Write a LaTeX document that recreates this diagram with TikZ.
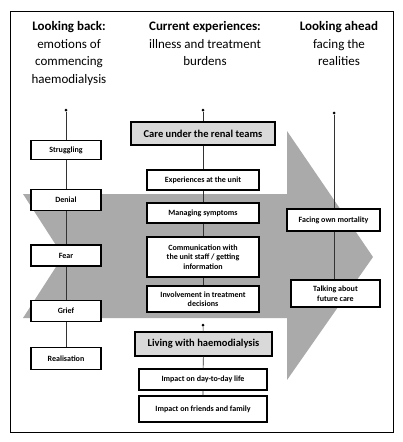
\documentclass[tikz,border=0pt]{standalone}
\usepackage{fontspec}
\setmainfont{Carlito}
\usetikzlibrary{positioning,calc}
\definecolor{ArrowGray}{RGB}{170,170,170}
\definecolor{TeamGray}{RGB}{217,217,217}
\tikzset{
    stagebox/.style={draw=black, line width=1.2pt, fill=white, inner sep=1pt, align=center, font=\bfseries\fontsize{8}{9.5}\selectfont},
    teambox/.style={stagebox, fill=TeamGray, font=\bfseries\fontsize{10.5}{12}\selectfont},
    heading/.style={align=center, font=\fontsize{13}{17.5}\selectfont, anchor=north},
    dotnode/.style={circle, fill=black, inner sep=0pt, minimum size=3pt},
    link/.style={draw=black!80, line width=0.6pt}
}

\begin{document}
\begin{tikzpicture}[x=1pt, y=-1pt]
    \useasboundingbox (0,0) rectangle (402,442);
    % --- FRAME ---
    \draw[line width=0.8pt] (10,11) rectangle (393,432);

    % --- GRAY ARROW ---
    \fill[ArrowGray] (23,194) -- (287,194) -- (287,131) -- (373,257)
        -- (287,380) -- (287,318) -- (23,318) -- (63,256) -- cycle;

    % --- HEADINGS ---
    \node[heading] (hback) at (69,18) {\textbf{Looking back:}\\emotions of\\commencing\\haemodialysis};
    \node[heading] (hnow) at (205,18) {\textbf{Current experiences:}\\illness and treatment\\burdens};
    \node[heading] (hahead) at (339,18) {\textbf{Looking ahead}\\facing the\\realities};

    % --- LEFT COLUMN ---
    \node[dotnode] (ldot) at (66,110) {};
    \node[stagebox, minimum width=70pt, minimum height=19pt] (struggle) at (66,150) {Struggling};
    \node[stagebox, minimum width=70pt, minimum height=21pt] (denial) at (66,200) {Denial};
    \node[stagebox, minimum width=70pt, minimum height=21pt] (fear) at (66,255.5) {Fear};
    \node[stagebox, minimum width=70pt, minimum height=21pt] (grief) at (66,311) {Grief};
    \node[stagebox, minimum width=70pt, minimum height=22pt] (real) at (66,358.5) {Realisation};

    % --- MIDDLE COLUMN ---
    \node[dotnode] (mdot) at (203,110) {};
    \node[teambox, minimum width=144pt, minimum height=23pt] (renal) at (203,133.5) {Care under the renal teams};
    \node[stagebox, minimum width=112pt, minimum height=20pt] (unit) at (203,180) {Experiences at the unit};
    \node[stagebox, minimum width=112pt, minimum height=20pt] (symptoms) at (203,213) {Managing symptoms};
    \node[stagebox, minimum width=112pt, minimum height=40pt] (comm) at (203,257) {Communication with\\the unit staff / getting\\information};
    \node[stagebox, minimum width=112pt, minimum height=26pt] (decide) at (203,299) {Involvement in treatment\\decisions};
    \node[dotnode] (ldot2) at (203,325) {};
    \node[teambox, minimum width=137pt, minimum height=24pt] (living) at (203.5,344) {Living with haemodialysis};
    \node[stagebox, minimum width=128pt, minimum height=21pt] (daily) at (203,379.5) {Impact on day-to-day life};
    \node[stagebox, minimum width=128pt, minimum height=26pt] (family) at (203,409) {Impact on friends and family};

    % --- RIGHT COLUMN ---
    \node[dotnode] (rdot) at (334,113) {};
    \node[stagebox, minimum width=93pt, minimum height=22pt] (mortal) at (333.5,220) {Facing own mortality};
    \node[stagebox, minimum width=89pt, minimum height=27pt] (future) at (335.5,293.5) {Talking about\\future care};

    % --- CONNECTORS ---
    \draw[link] (ldot) -- (struggle) (struggle) -- (denial) (denial) -- (fear)
        (fear) -- (grief) (grief) -- (real);
    \draw[link] (mdot) -- (renal) (renal) -- (unit) (unit) -- (symptoms)
        (symptoms) -- (comm) (comm) -- (decide);
    \draw[link] (ldot2) -- (living) (living) -- (daily) (daily) -- (family);
    \draw[link] (rdot) -- (mortal.north -| rdot) (mortal.south -| rdot) -- (future.north -| rdot);
\end{tikzpicture}
\end{document}
